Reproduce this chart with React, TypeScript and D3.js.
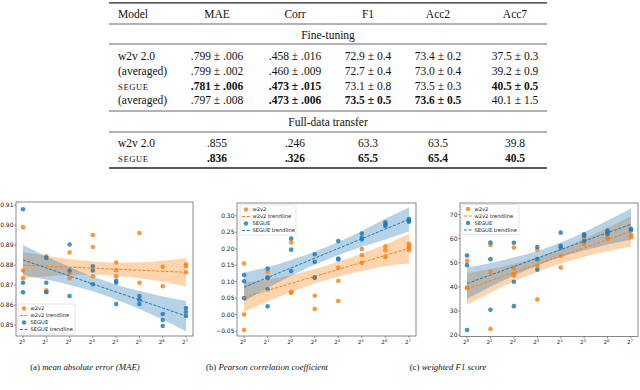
import React, { useEffect, useRef } from "react";
import * as d3 from "d3";

// ---- table data ----
const tableColumns = ["MAE", "Corr", "F1", "Acc2", "Acc7"];
const fineTuningModels = ["w2v 2.0", "(averaged)", "SEGUE", "(averaged)"];
const fineTuningCells = [
  [".799 ± .006", ".458 ± .016", "72.9 ± 0.4", "73.4 ± 0.2", "37.5 ± 0.3"],
  [".799 ± .002", ".460 ± .009", "72.7 ± 0.4", "73.0 ± 0.4", "39.2 ± 0.9"],
  [".781 ± .006", ".473 ± .015", "73.1 ± 0.8", "73.5 ± 0.3", "40.5 ± 0.5"],
  [".797 ± .008", ".473 ± .006", "73.5 ± 0.5", "73.6 ± 0.5", "40.1 ± 1.5"],
];
const fineTuningBold = [
  [false, false, false, false, false],
  [false, false, false, false, false],
  [true, true, false, false, true],
  [false, true, true, true, false],
];
const transferModels = ["w2v 2.0", "SEGUE"];
const transferCells = [
  [".855", ".246", "63.3", "63.5", "39.8"],
  [".836", ".326", "65.5", "65.4", "40.5"],
];
const transferBold = [
  [false, false, false, false, false],
  [true, true, true, true, true],
];

// ---- plot data (x = exponent of 2) ----
const exps = [0, 1, 2, 3, 4, 5, 6, 7];

const maeW2v2 = [[0, .899], [0, .8773], [0, .8734], [1, .8844], [1, .8674], [1, .8668], [2, .8863], [2, .8759], [2, .8734],
  [3, .8951], [3, .8891], [3, .8744], [4, .8813], [4, .8774], [4, .8744], [5, .8961], [5, .8712], [6, .8792], [6, .8694],
  [7, .8804], [7, .8794], [7, .8764]];
const maeSegue = [[0, .908], [0, .8712], [0, .8664], [1, .8836], [1, .8712], [1, .8664], [2, .8903], [2, .8773], [2, .8645],
  [3, .8794], [3, .8773], [3, .8704], [4, .8722], [4, .8712], [4, .8605], [5, .8645], [5, .8627], [5, .8605],
  [6, .8555], [6, .8525], [6, .8495], [7, .8585], [7, .8565], [7, .8545]];
const maeW2v2Fit = [.880, .8764];
const maeSegueFit = [.8826, .8545];
const maeW2v2Upper = [.8866, .8847, .8830, .8818, .8812, .8814, .8822, .8836];
const maeW2v2Lower = [.8734, .8743, .8750, .8752, .8746, .8734, .8717, .8692];
const maeSegueUpper = [.8901, .8844, .8791, .8743, .8702, .8670, .8643, .8622];
const maeSegueLower = [.8751, .8728, .8701, .8669, .8628, .8580, .8527, .8468];

const corrW2v2 = [[0, .155], [0, .000], [0, -.047], [1, .130], [1, .110], [1, .112], [2, .219], [2, .069], [2, .066],
  [3, .113], [3, .057], [3, .017], [4, .142], [4, .102], [4, .041], [5, .199], [5, .180], [5, .157],
  [6, .207], [6, .195], [6, .175], [7, .215], [7, .208], [7, .202], [7, .196]];
const corrSegue = [[0, .120], [0, .101], [0, .050], [1, .140], [1, .112], [1, .077], [1, .025], [2, .231], [2, .197], [2, .132],
  [3, .183], [3, .160], [3, .112], [4, .223], [4, .170], [4, .167], [5, .246], [5, .233], [5, .228],
  [6, .280], [6, .274], [6, .269], [7, .290], [7, .285], [7, .282]];
const corrW2v2Fit = [.052, .201];
const corrSegueFit = [.083, .289];
const corrW2v2Upper = [.098, .106, .120, .138, .160, .185, .213, .245];
const corrW2v2Lower = [.008, .040, .068, .094, .115, .132, .147, .155];
const corrSegueUpper = [.128, .144, .166, .191, .220, .254, .291, .325];
const corrSegueLower = [.040, .081, .118, .151, .181, .206, .228, .253];

const f1W2v2 = [[0, 50.8], [0, 39.8], [0, 39.4], [1, 57.4], [1, 46.2], [1, 22.5], [2, 56.3], [2, 47.6], [2, 45.4], [2, 44.7],
  [3, 55.4], [3, 48.7], [3, 34.8], [4, 52.9], [4, 48.0], [5, 60.2], [5, 57.8], [6, 60.6], [6, 59.9], [7, 61.6], [7, 60.6]];
const f1Segue = [[0, 53.0], [0, 49.0], [0, 22.1], [1, 58.4], [1, 51.5], [1, 30.5], [2, 58.3], [2, 42.1], [2, 32.0],
  [3, 56.5], [3, 51.5], [3, 47.1], [4, 62.5], [4, 57.0], [4, 56.3], [5, 61.8], [5, 61.2], [5, 59.0],
  [6, 63.4], [6, 62.7], [6, 62.0], [7, 64.1], [7, 63.5]];
const f1W2v2Fit = [39.1, 63.0];
const f1SegueFit = [41.4, 66.0];
const f1W2v2Upper = [45.6, 47.4, 49.6, 52.3, 55.7, 59.9, 64.4, 69.4];
const f1W2v2Lower = [32.6, 37.6, 42.2, 46.3, 49.7, 52.5, 54.8, 56.6];
const f1SegueUpper = [48.0, 49.9, 52.2, 54.9, 58.4, 62.7, 67.5, 72.5];
const f1SegueLower = [35.0, 40.0, 44.6, 48.9, 52.4, 55.1, 57.6, 59.5];

const legendLabels = ["w2v2", "w2v2 trendline", "SEGUE", "SEGUE trendline"];
const captions = [
  ["(a) ", "mean absolute error (MAE)"],
  ["(b) ", "Pearson correlation coefficient"],
  ["(c) ", "weighted F1 score"],
];

const ORANGE = "#ff7f0e";
const BLUE = "#1f77b4";

const panels = [
  {
    left: 16, right: 193, top: 202, bottom: 336, yDomain: [0.8445, 0.9116],
    yTicks: [0.85, 0.86, 0.87, 0.88, 0.89, 0.90, 0.91], fmt: d3.format(".2f"),
    w2v2: maeW2v2, segue: maeSegue, w2v2Fit: maeW2v2Fit, segueFit: maeSegueFit,
    w2v2Band: [maeW2v2Lower, maeW2v2Upper], segueBand: [maeSegueLower, maeSegueUpper],
    legend: { x: 18, y: 304, w: 57, h: 30 }, caption: 0, captionX: 85,
  },
  {
    left: 237, right: 416, top: 203, bottom: 336, yDomain: [-0.065, 0.3386],
    yTicks: [-0.05, 0, 0.05, 0.10, 0.15, 0.20, 0.25, 0.30], fmt: (v) => d3.format(".2f")(v).replace("-", "\u2212"),
    w2v2: corrW2v2, segue: corrSegue, w2v2Fit: corrW2v2Fit, segueFit: corrSegueFit,
    w2v2Band: [corrW2v2Lower, corrW2v2Upper], segueBand: [corrSegueLower, corrSegueUpper],
    legend: { x: 240, y: 205, w: 56, h: 30 }, caption: 1, captionX: 267,
  },
  {
    left: 460, right: 638, top: 203, bottom: 336.5, yDomain: [19.4, 74.8],
    yTicks: [20, 30, 40, 50, 60, 70], fmt: d3.format("d"),
    w2v2: f1W2v2, segue: f1Segue, w2v2Fit: f1W2v2Fit, segueFit: f1SegueFit,
    w2v2Band: [f1W2v2Lower, f1W2v2Upper], segueBand: [f1SegueLower, f1SegueUpper],
    legend: { x: 462, y: 204.5, w: 57, h: 30 }, caption: 2, captionX: 448,
  },
];

function drawTable(svg) {
  const serif = "'Liberation Serif', 'Times New Roman', serif";
  const g = svg.append("g").style("font-family", serif).style("font-size", "11.5px").attr("fill", "#111");
  const ruleX0 = 109, ruleX1 = 547;
  const colX = [217, 295, 368, 438, 515];
  const labelX = 118;

  const rule = (y, w) => g.append("line").attr("x1", ruleX0).attr("x2", ruleX1)
    .attr("y1", y).attr("y2", y).attr("stroke", "#222").attr("stroke-width", w);
  rule(2.8, 1.3);
  rule(24, 0.7);
  rule(44, 0.7);
  rule(111, 0.7);
  rule(132, 0.7);
  rule(168, 1.3);

  const modelLabel = (text, y) => {
    if (text === "SEGUE") {
      g.append("text").attr("x", labelX).attr("y", y).style("font-size", "8.6px")
        .style("letter-spacing", "0.6px").text(text);
    } else {
      g.append("text").attr("x", labelX).attr("y", y).text(text);
    }
  };

  g.append("text").attr("x", labelX).attr("y", 17.5).text("Model");
  tableColumns.forEach((c, i) => {
    g.append("text").attr("x", colX[i]).attr("y", 17.5).attr("text-anchor", "middle").text(c);
  });

  g.append("text").attr("x", (ruleX0 + ruleX1) / 2).attr("y", 39).attr("text-anchor", "middle").text("Fine-tuning");
  const ftY = [60, 74.5, 89.5, 104];
  fineTuningModels.forEach((m, r) => {
    modelLabel(m, ftY[r]);
    fineTuningCells[r].forEach((c, i) => {
      g.append("text").attr("x", colX[i]).attr("y", ftY[r]).attr("text-anchor", "middle")
        .style("font-weight", fineTuningBold[r][i] ? "bold" : "normal").text(c);
    });
  });

  g.append("text").attr("x", (ruleX0 + ruleX1) / 2).attr("y", 125.5).attr("text-anchor", "middle").text("Full-data transfer");
  const trY = [147, 161.5];
  transferModels.forEach((m, r) => {
    modelLabel(m, trY[r]);
    transferCells[r].forEach((c, i) => {
      g.append("text").attr("x", colX[i]).attr("y", trY[r]).attr("text-anchor", "middle")
        .style("font-weight", transferBold[r][i] ? "bold" : "normal").text(c);
    });
  });
}

function drawPanel(svg, p) {
  const sans = "'DejaVu Sans', sans-serif";
  const x = d3.scaleLinear().domain([-0.3, 7.3]).range([p.left, p.right]);
  const y = d3.scaleLinear().domain(p.yDomain).range([p.bottom, p.top]);
  const g = svg.append("g");

  const area = d3.area()
    .x((d, i) => x(exps[i]))
    .y0((d) => y(d[0]))
    .y1((d) => y(d[1]))
    .curve(d3.curveMonotoneX);
  const line = d3.line().x((d) => x(d[0])).y((d) => y(d[1]));

  const series = [
    { pts: p.w2v2, fit: p.w2v2Fit, band: p.w2v2Band, color: ORANGE },
    { pts: p.segue, fit: p.segueFit, band: p.segueBand, color: BLUE },
  ];

  series.forEach((s) => {
    const bandData = exps.map((e, i) => [s.band[0][i], s.band[1][i]]);
    g.append("path").attr("d", area(bandData)).attr("fill", s.color).attr("fill-opacity", 0.33);
  });
  series.forEach((s) => {
    g.selectAll(null).data(s.pts).enter().append("circle")
      .attr("cx", (d) => x(d[0])).attr("cy", (d) => y(d[1])).attr("r", 2.3)
      .attr("fill", s.color).attr("fill-opacity", 0.82);
  });
  series.forEach((s) => {
    g.append("path").attr("d", line([[exps[0], s.fit[0]], [exps[exps.length - 1], s.fit[1]]]))
      .attr("fill", "none").attr("stroke", s.color).attr("stroke-width", 1).attr("stroke-dasharray", "3,1.6");
  });

  // frame
  g.append("rect").attr("x", p.left).attr("y", p.top).attr("width", p.right - p.left).attr("height", p.bottom - p.top)
    .attr("fill", "none").attr("stroke", "#555").attr("stroke-width", 0.7);

  // y axis
  p.yTicks.forEach((t) => {
    g.append("line").attr("x1", p.left - 2).attr("x2", p.left).attr("y1", y(t)).attr("y2", y(t))
      .attr("stroke", "#555").attr("stroke-width", 0.6);
    g.append("text").attr("x", p.left - 2.5).attr("y", y(t)).attr("dy", "0.35em").attr("text-anchor", "end")
      .style("font-family", sans).style("font-size", "6px").attr("fill", "#222").text(p.fmt(t));
  });

  // x axis
  exps.forEach((e) => {
    g.append("line").attr("x1", x(e)).attr("x2", x(e)).attr("y1", p.bottom).attr("y2", p.bottom + 2)
      .attr("stroke", "#555").attr("stroke-width", 0.6);
    const t = g.append("text").attr("x", x(e) - 1).attr("y", p.bottom + 7.5).attr("text-anchor", "middle")
      .style("font-family", sans).style("font-size", "5.6px").attr("fill", "#222");
    t.append("tspan").text("2");
    t.append("tspan").attr("dy", "-2").style("font-size", "3.9px").text(e);
  });

  // legend
  const L = p.legend;
  const lg = g.append("g");
  lg.append("rect").attr("x", L.x).attr("y", L.y).attr("width", L.w).attr("height", L.h).attr("rx", 1.5)
    .attr("fill", "white").attr("fill-opacity", 0.8).attr("stroke", "#ccc").attr("stroke-width", 0.5);
  const rowH = L.h / 4.3;
  legendLabels.forEach((lab, i) => {
    const cy = L.y + rowH * (i + 0.65);
    const color = i < 2 ? ORANGE : BLUE;
    if (i % 2 === 0) {
      lg.append("circle").attr("cx", L.x + 6).attr("cy", cy).attr("r", 2.2).attr("fill", color).attr("fill-opacity", 0.82);
    } else {
      lg.append("line").attr("x1", L.x + 2).attr("x2", L.x + 10).attr("y1", cy).attr("y2", cy)
        .attr("stroke", color).attr("stroke-width", 1).attr("stroke-dasharray", "3,1.6");
    }
    lg.append("text").attr("x", L.x + 12.5).attr("y", cy).attr("dy", "0.35em")
      .style("font-family", sans).style("font-size", "5.2px").attr("fill", "#222").text(lab);
  });

  // caption
  const cap = captions[p.caption];
  const ct = svg.append("text").attr("x", p.captionX).attr("y", 370).attr("text-anchor", "middle")
    .style("font-family", "'Liberation Serif', 'Times New Roman', serif").style("font-size", "8.8px").attr("fill", "#111");
  ct.append("tspan").text(cap[0]);
  ct.append("tspan").style("font-style", "italic").text(cap[1]);
}

export default function App() {
  const ref = useRef(null);

  useEffect(() => {
    const svg = d3.select(ref.current);
    svg.selectAll("*").remove();
    drawTable(svg);
    panels.forEach((p) => drawPanel(svg, p));
  }, []);

  return (
    <svg ref={ref} width={640} height={390}
      style={{ position: "absolute", left: 0, top: 0, background: "white" }} />
  );
}
